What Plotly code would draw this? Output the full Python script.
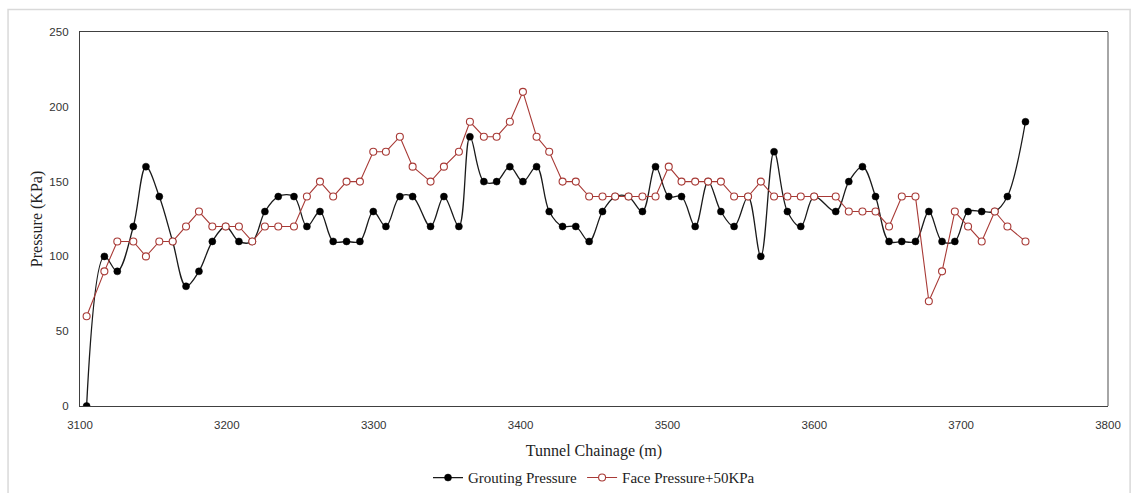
import plotly.graph_objects as go

# Tunnel chainage of each ring record (m)
chainage = [
    3104.5, 3116.6, 3125.4, 3136.3, 3144.9, 3154.0, 3163.1, 3172.2, 3181.0, 3190.1,
    3199.2, 3208.2, 3217.3, 3225.9, 3235.0, 3245.7, 3254.5, 3263.4, 3272.4, 3281.5,
    3290.6, 3299.7, 3308.3, 3317.8, 3326.5, 3338.7, 3347.8, 3358.0, 3365.5, 3375.0,
    3383.7, 3392.7, 3401.6, 3410.9, 3419.5, 3428.6, 3437.6, 3446.7, 3455.8, 3464.4,
    3473.5, 3483.0, 3491.9, 3500.9, 3509.6, 3518.9, 3527.7, 3536.4, 3545.4, 3554.9,
    3563.6, 3572.6, 3581.7, 3590.8, 3599.9, 3614.6, 3623.5, 3632.8, 3641.7, 3650.9,
    3659.6, 3668.9, 3678.0, 3687.0, 3695.7, 3704.7, 3714.0, 3722.9, 3731.5, 3743.8,
]

# Grouting pressure (KPa)
grouting = [
    0, 100, 90, 120, 160, 140, 110, 80, 90, 110,
    120, 110, 110, 130, 140, 140, 120, 130, 110, 110,
    110, 130, 120, 140, 140, 120, 140, 120, 180, 150,
    150, 160, 150, 160, 130, 120, 120, 110, 130, 140,
    140, 130, 160, 140, 140, 120, 150, 130, 120, 140,
    100, 170, 130, 120, 140, 130, 150, 160, 140, 110,
    110, 110, 130, 110, 110, 130, 130, 130, 140, 190,
]

# Face pressure + 50 KPa
face_plus50 = [
    60, 90, 110, 110, 100, 110, 110, 120, 130, 120,
    120, 120, 110, 120, 120, 120, 140, 150, 140, 150,
    150, 170, 170, 180, 160, 150, 160, 170, 190, 180,
    180, 190, 210, 180, 170, 150, 150, 140, 140, 140,
    140, 140, 140, 160, 150, 150, 150, 150, 140, 140,
    150, 140, 140, 140, 140, 140, 130, 130, 130, 120,
    140, 140, 70, 90, 130, 120, 110, 130, 120, 110,
]

x_ticks = [3100, 3200, 3300, 3400, 3500, 3600, 3700, 3800]
y_ticks = [0, 50, 100, 150, 200, 250]

RED = "#A83A36"

fig = go.Figure()

fig.add_trace(go.Scatter(
    x=chainage, y=grouting, name="Grouting Pressure",
    mode="lines+markers",
    line=dict(color="#1a1a1a", width=1.3, shape="spline", smoothing=1.0),
    marker=dict(symbol="circle", size=7, color="#000000",
                line=dict(color="#000000", width=0.5)),
))

fig.add_trace(go.Scatter(
    x=chainage, y=face_plus50, name="Face Pressure+50KPa",
    mode="lines+markers",
    line=dict(color=RED, width=1.1),
    marker=dict(symbol="circle", size=7, color="#ffffff",
                line=dict(color=RED, width=1.1)),
))

fig.update_layout(
    width=1134, height=493,
    margin=dict(l=80, r=26, t=32, b=87, autoexpand=False),
    paper_bgcolor="#ffffff", plot_bgcolor="#ffffff",
    showlegend=True,
    legend=dict(
        orientation="h", x=0.5, xanchor="center", y=-0.192, yanchor="middle",
        font=dict(family="Liberation Serif", size=15, color="#222222"),
        itemwidth=30, tracegroupgap=0,
    ),
    xaxis=dict(
        range=[3100, 3800], tickvals=x_ticks, ticktext=[str(v) for v in x_ticks],
        showgrid=False, zeroline=False, automargin=False,
        showline=True, linecolor="#404040", linewidth=1.3, mirror=True,
        ticks="", ticklabelstandoff=8,
        tickfont=dict(family="Liberation Sans", size=11.5, color="#333333"),
        title=dict(text="Tunnel Chainage (m)", standoff=14,
                   font=dict(family="Liberation Serif", size=16, color="#222222")),
    ),
    yaxis=dict(
        range=[0, 250], tickvals=y_ticks, ticktext=[str(v) for v in y_ticks],
        showgrid=False, zeroline=False, automargin=False,
        showline=True, linecolor="#404040", linewidth=1.3,
        ticks="", ticklabelstandoff=8,
        tickfont=dict(family="Liberation Sans", size=11.5, color="#333333"),
        title=dict(text="Pressure (KPa)", standoff=2,
                   font=dict(family="Liberation Serif", size=16, color="#222222")),
    ),
    shapes=[
        # right edge of the plot frame
        dict(type="line", xref="x domain", yref="y domain", x0=1, x1=1, y0=0, y1=1,
             line=dict(color="#a6a6a6", width=2)),
        # outer chart border
        dict(type="rect", xref="paper", yref="paper", x0=-0.0700, x1=1.0215, y0=-0.25, y1=1.060,
             line=dict(color="#d9d9d9", width=1.5), layer="below"),
    ],
)

fig.write_html("out.html")
